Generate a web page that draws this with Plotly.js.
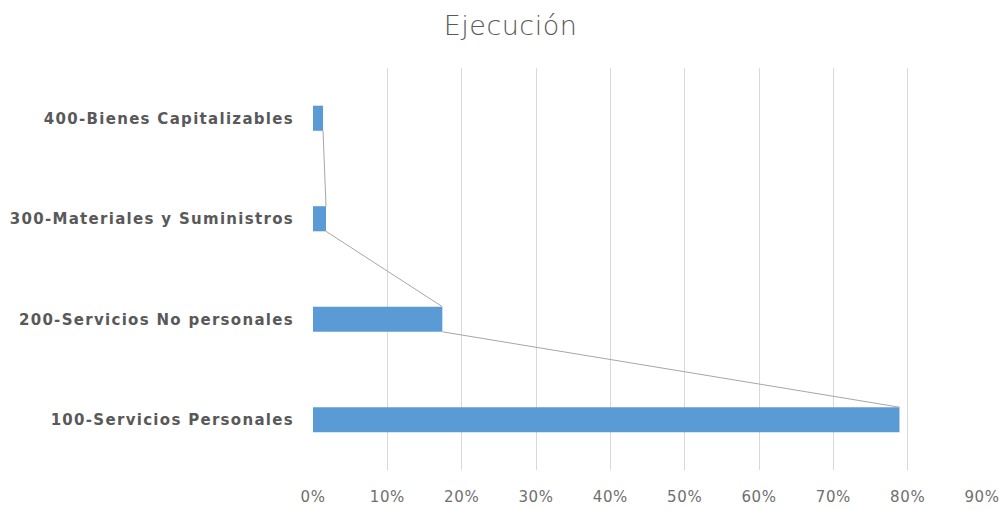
<!DOCTYPE html>
<html>
<head>
<meta charset="utf-8">
<script src="https://cdn.plot.ly/plotly-3.0.1.min.js"></script>
<style>
html,body{margin:0;padding:0;background:#fff;}
#chart{width:1001px;height:510px;}
#chart .ytick text{letter-spacing:1.3px;}
#chart .xtick text{letter-spacing:0.6px;}
#chart .gtitle{letter-spacing:0.5px;}
</style>
</head>
<body>
<div id="chart"></div>
<script>
var categories = ["100-Servicios Personales", "200-Servicios No personales", "300-Materiales y Suministros", "400-Bienes Capitalizables"];
var ejecucion = [0.789, 0.174, 0.0175, 0.0135];
var xTickVals = [0, 0.1, 0.2, 0.3, 0.4, 0.5, 0.6, 0.7, 0.8, 0.9];
var xTickText = ["0%", "10%", "20%", "30%", "40%", "50%", "60%", "70%", "80%", "90%"];

var barWidth = 0.25;
var pos = categories.map(function (c, i) { return i; });

// series lines: from top-right of lower bar to bottom-right of upper bar
var slX = [], slY = [];
for (var i = 0; i < ejecucion.length - 1; i++) {
  slX.push(ejecucion[i], ejecucion[i + 1], null);
  slY.push(pos[i] + barWidth / 2, pos[i + 1] - barWidth / 2, null);
}

var data = [
  {
    type: "bar", orientation: "h",
    x: ejecucion, y: pos, width: barWidth,
    marker: { color: "#5B9BD5" },
    hoverinfo: "x+y"
  },
  {
    type: "scatter", mode: "lines",
    x: slX, y: slY,
    line: { color: "#A6A6A6", width: 1 },
    hoverinfo: "skip"
  }
];

var layout = {
  width: 1001, height: 510,
  margin: { l: 313, r: 19, t: 68, b: 40 },
  paper_bgcolor: "#fff", plot_bgcolor: "#fff",
  showlegend: false,
  title: { text: "Ejecución", x: 0.51, xanchor: "center", y: 0.95, yanchor: "middle",
           font: { family: "'DejaVu Sans', sans-serif", size: 27, color: "#595959", weight: 200 } },
  xaxis: {
    range: [0, 0.9], tickvals: xTickVals, ticktext: xTickText,
    showgrid: true, gridcolor: "#D9D9D9", gridwidth: 1,
    zeroline: false, showline: false, ticks: "",
    ticklabelstandoff: 16,
    tickfont: { family: "'DejaVu Sans', sans-serif", size: 15, color: "#6F6F6F" },
    fixedrange: true
  },
  yaxis: {
    range: [-0.5, 3.5], tickvals: pos, ticktext: categories,
    showgrid: false, zeroline: false, showline: false, ticks: "",
    ticklabelstandoff: 18,
    tickfont: { family: "'DejaVu Sans', sans-serif", size: 15, color: "#595959", weight: "bold" },
    fixedrange: true
  }
};

Plotly.newPlot("chart", data, layout, { displayModeBar: false, staticPlot: true });
</script>
</body>
</html>
